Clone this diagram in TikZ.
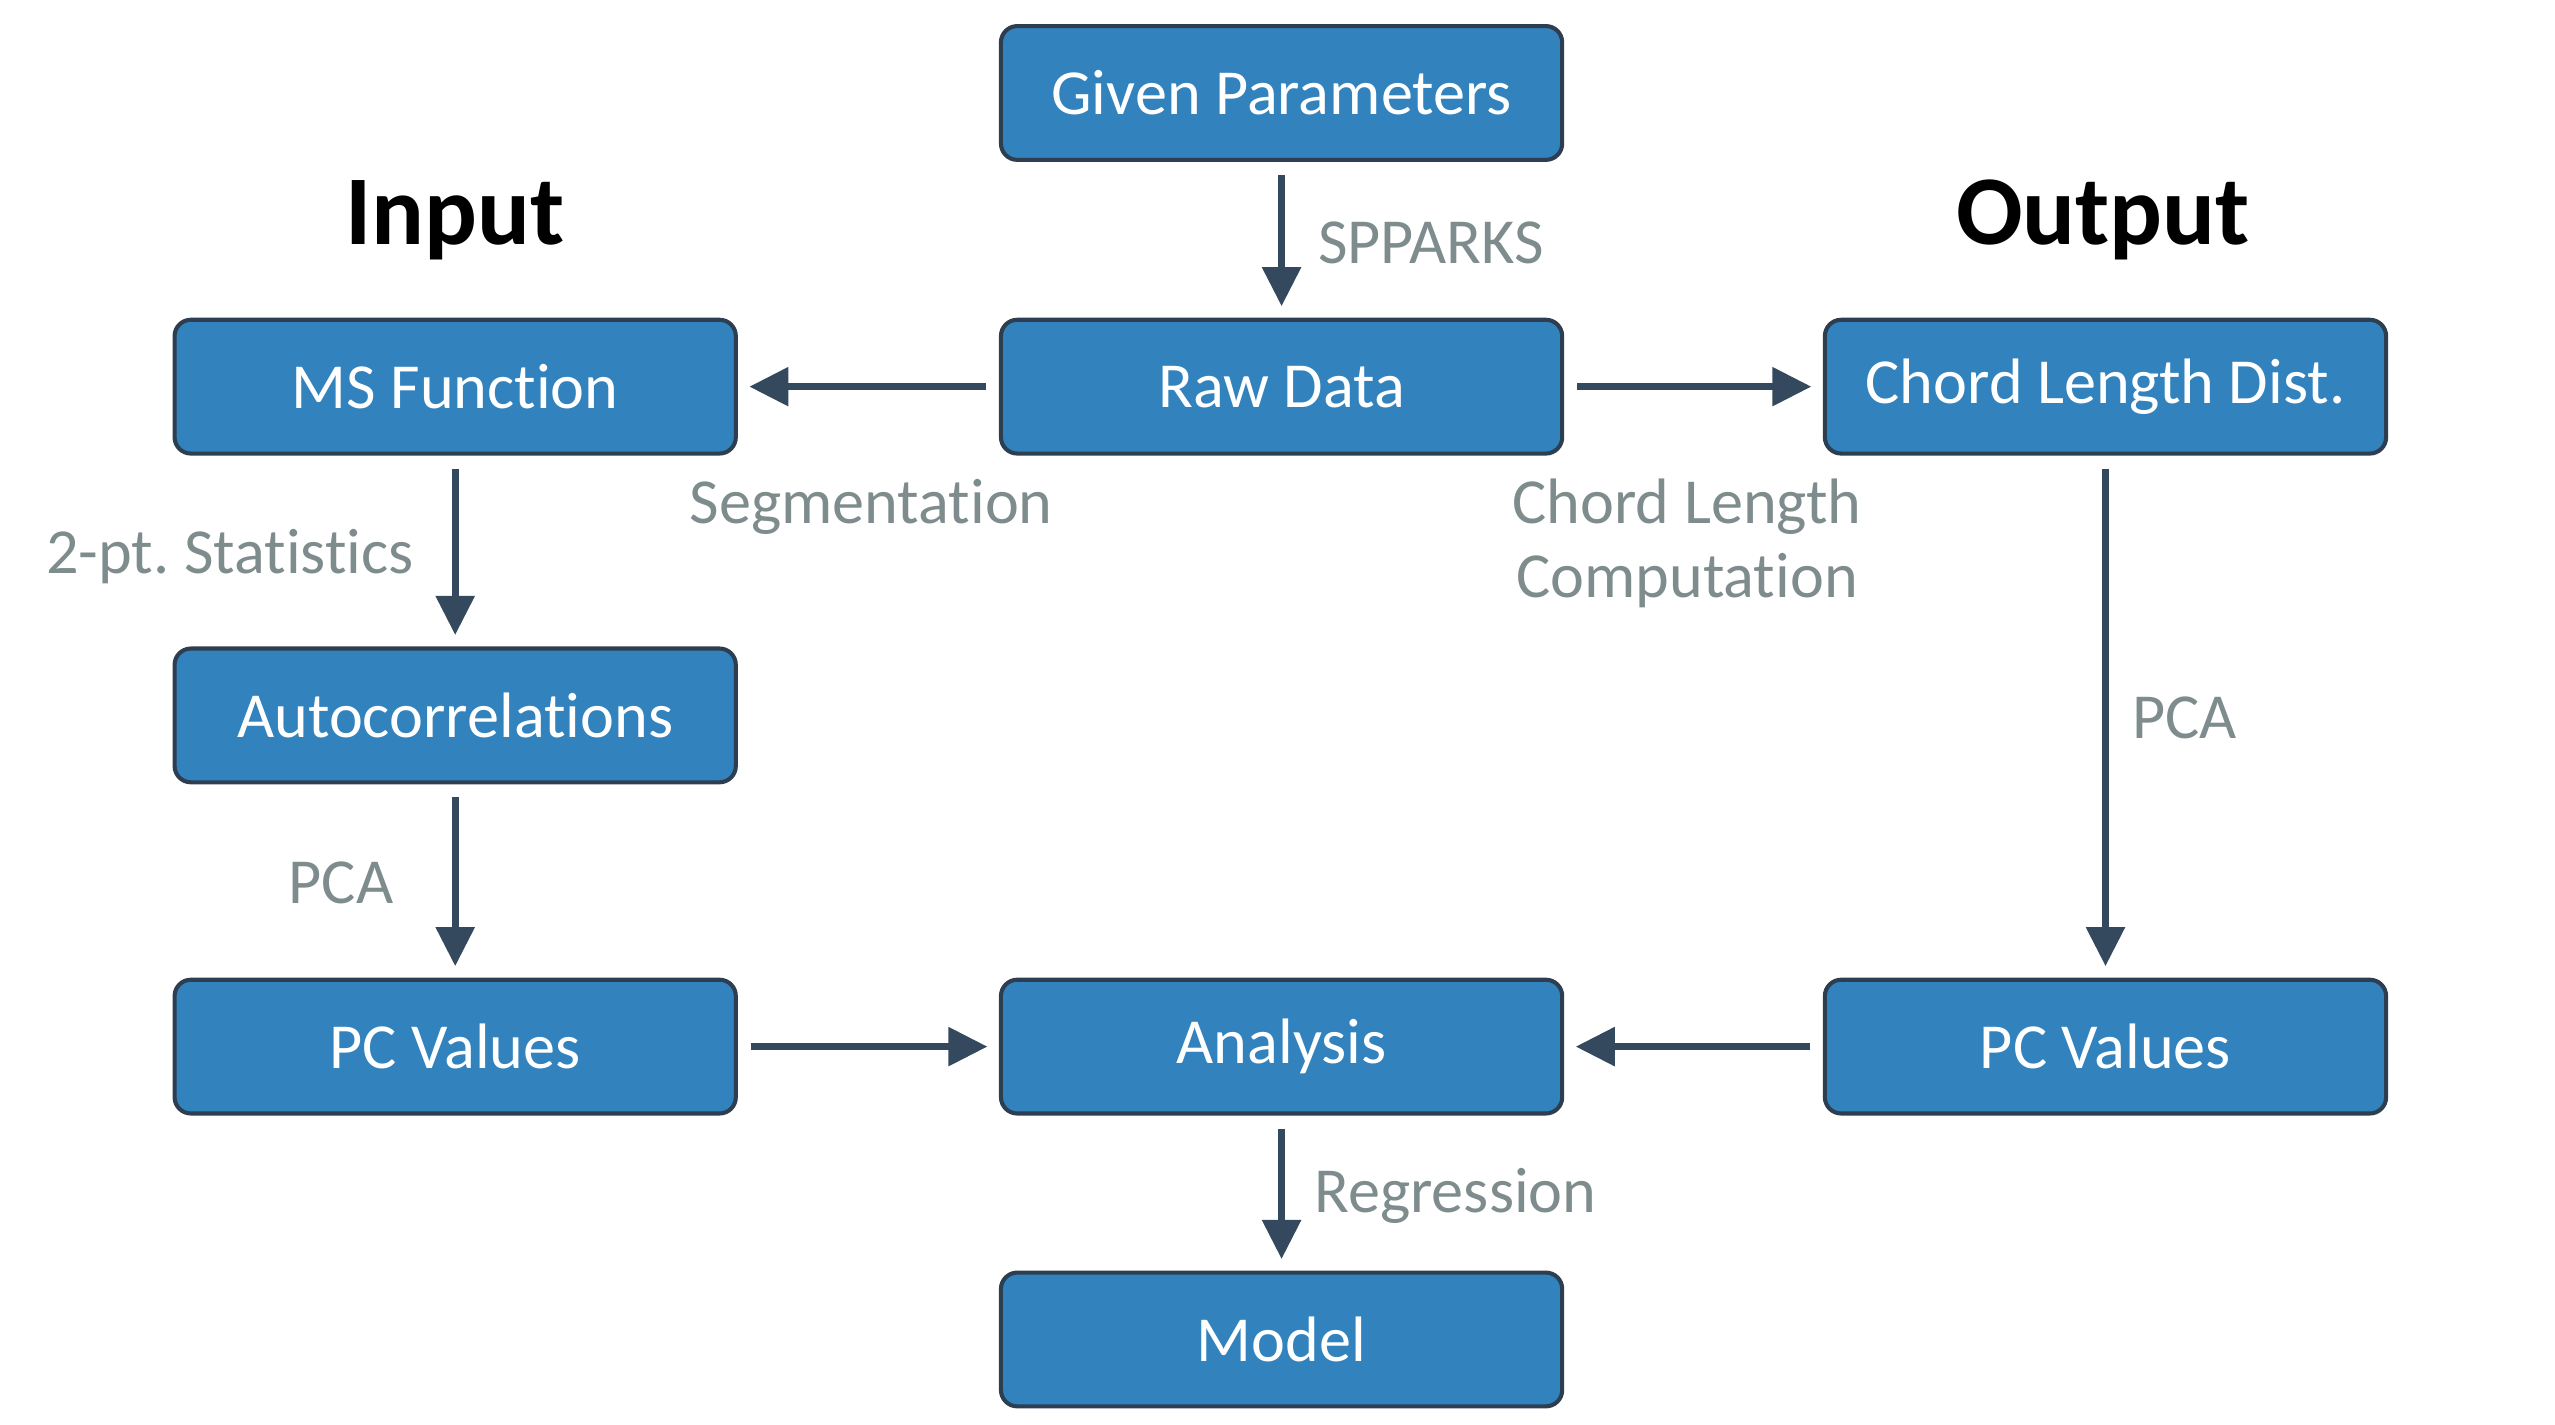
\documentclass[tikz,border=0pt]{standalone}
\usepackage{fontspec}
\setmainfont{Carlito}[Ligatures=CommonOff]
\frenchspacing
\usetikzlibrary{arrows.meta}
\definecolor{boxBlue}{RGB}{49,130,189}
\definecolor{boxEdge}{RGB}{44,62,80}
\definecolor{arrowDark}{RGB}{52,73,94}
\definecolor{labelGray}{RGB}{127,140,141}

\begin{document}
\begin{tikzpicture}
[lineDecorate/.style={-{Triangle[length=0.24cm,width=0.23cm]},line width=0.045cm,draw=arrowDark,shorten <=0.08cm,shorten >=0.07cm},%
  nodeDecorate/.style={shape=rectangle,rounded corners=0.1cm,draw=boxEdge,line width=0.025cm,fill=boxBlue,text=white,minimum width=3.44cm,minimum height=0.82cm,font=\fontsize{11.2}{14}\selectfont},
  labelDecorate/.style={text=labelGray,align=center,font=\fontsize{11.2}{12.85}\selectfont},
  titleDecorate/.style={font=\fontsize{17.2}{21}\selectfont\bfseries}]
\useasboundingbox (0,0) rectangle (15.66,-8.73);
%% boxes
\foreach \nodename/\x/\y/\nodetext in {
  given/7.855/-0.57/Given Parameters,
  raw/7.855/-2.37/Raw Data,
  ms/2.79/-2.37/MS Function,
  chord/12.905/-2.37/Chord Length Dist.,
  auto/2.79/-4.385/Autocorrelations,
  pcleft/2.79/-6.415/PC Values,
  analysis/7.855/-6.415/Analysis,
  pcright/12.905/-6.415/PC Values,
  model/7.855/-8.21/Model}
{
  \node (\nodename) at (\x,\y) [nodeDecorate] {\nodetext};
}
%% titles
\node (input) at (2.79,-1.35) [titleDecorate] {Input};
\node (output) at (12.89,-1.35) [titleDecorate] {Output};
%% arrows
\path
\foreach \startnode/\endnode in {
  given/raw, raw/ms, raw/chord, ms/auto, auto/pcleft,
  chord/pcright, pcleft/analysis, pcright/analysis, analysis/model}
{
  (\startnode) edge[lineDecorate] (\endnode)
};
%% arrow labels
\foreach \labelname/\x/\y/\labeltext in {
  spparks/8.77/-1.49/SPPARKS,
  segment/5.34/-3.11/Segmentation,
  chordcomp/10.34/-3.33/{Chord Length\\Computation},
  twopt/1.41/-3.41/2-pt. Statistics,
  pcaleft/2.09/-5.41/PCA,
  pcaright/13.39/-4.40/PCA,
  regress/8.92/-7.33/Regression}
{
  \node (\labelname) at (\x,\y) [labelDecorate] {\labeltext};
}
\end{tikzpicture}
\end{document}
